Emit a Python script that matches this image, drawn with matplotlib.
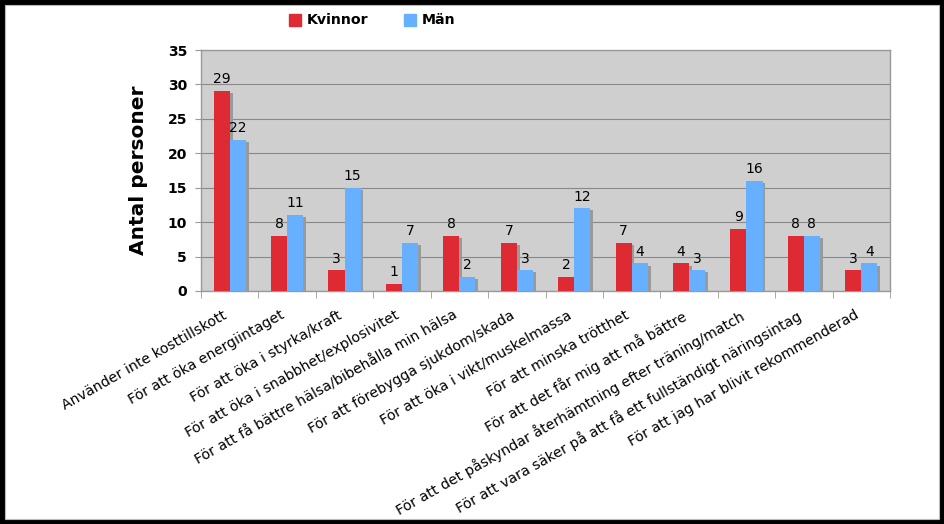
import matplotlib
matplotlib.use("Agg")
import matplotlib.pyplot as plt
import matplotlib.transforms as mtransforms
from matplotlib.patches import Rectangle
from matplotlib.lines import Line2D
import numpy as np

plt.rcParams["font.family"] = ["DejaVu Sans"]

categories = [
    "Använder inte kosttillskott",
    "För att öka energiintaget",
    "För att öka i styrka/kraft",
    "För att öka i snabbhet/explosivitet",
    "För att få bättre hälsa/bibehålla min hälsa",
    "För att förebygga sjukdom/skada",
    "För att öka i vikt/muskelmassa",
    "För att minska trötthet",
    "För att det får mig att må bättre",
    "För att det påskyndar återhämtning efter träning/match",
    "För att vara säker på att få ett fullständigt näringsintag",
    "För att jag har blivit rekommenderad",
]
kvinnor = [29, 8, 3, 1, 8, 7, 2, 7, 4, 9, 8, 3]
man = [22, 11, 15, 7, 2, 3, 12, 4, 3, 16, 8, 4]
series_names = ["Kvinnor", "Män"]
yticks = [0, 5, 10, 15, 20, 25, 30, 35]

W, H = 945, 524
fig = plt.figure(figsize=(W / 100, H / 100), dpi=100, facecolor="black")
bg = Rectangle((5 / W, 1 - 519 / H), (939 - 5) / W, (519 - 5) / H,
               transform=fig.transFigure, facecolor="white",
               edgecolor="#bbbbbb", linewidth=0.8, zorder=-10)
fig.patches.append(bg)

ax = fig.add_axes([201 / W, 1 - 291 / H, (890 - 201) / W, (291 - 50) / H], zorder=1)
ax.set_facecolor("#cfcfcf")
for s in ax.spines.values():
    s.set_color("#999999")
    s.set_linewidth(1.0)

x = np.arange(len(categories))
bw = 0.28
red = "#dd2a33"
blue = "#66b0ff"
shadow = "#9a9a9a"
for vals, off, col in [(kvinnor, -bw / 2, red), (man, bw / 2, blue)]:
    ax.bar(x + off + 0.05, vals, bw, bottom=-0.3, color=shadow, zorder=2, linewidth=0)
    ax.bar(x + off, vals, bw, color=col, zorder=3, linewidth=0)
    for xi, v in zip(x + off, vals):
        ax.text(xi, v + 0.7, str(v), ha="center", va="bottom", fontsize=10, zorder=4)

ax.set_xlim(-0.5, len(categories) - 0.5)
ax.set_ylim(0, 35)
ax.set_yticks(yticks)
ax.set_yticklabels([str(t) for t in yticks], fontsize=10, fontweight="bold")
ax.yaxis.grid(True, color="#888888", linewidth=0.8, zorder=1)
ax.set_axisbelow(True)
ax.tick_params(axis="y", length=4, color="#999999", pad=6)

ax.set_xticks(x)
ax.set_xticklabels(categories, rotation=29.5, ha="right", rotation_mode="anchor", fontsize=10.2)
ax.tick_params(axis="x", length=0, pad=10)
offset = mtransforms.ScaledTranslation(-7 / 100, -3 / 100, fig.dpi_scale_trans)
for lbl in ax.get_xticklabels():
    lbl.set_transform(lbl.get_transform() + offset)
ax.set_xticks(np.arange(len(categories) + 1) - 0.5, minor=True)
ax.tick_params(axis="x", which="minor", length=5, color="#999999")

ax.set_ylabel("Antal personer", fontsize=14.5, fontweight="bold")
ax.yaxis.set_label_coords((148 - 201) / (890 - 201), 0.5)

handles = [Line2D([], [], marker="s", linestyle="", markersize=8.5, color=red),
           Line2D([], [], marker="s", linestyle="", markersize=8.5, color=blue)]
fig.legend(handles, series_names, loc="center", bbox_to_anchor=(372 / W, 1 - 20.5 / H),
           ncol=2, frameon=False, prop={"weight": "bold", "size": 10.2},
           handletextpad=0.4, columnspacing=2.5, handlelength=0.9)

fig.savefig("out.png", dpi=100, facecolor=fig.get_facecolor())
